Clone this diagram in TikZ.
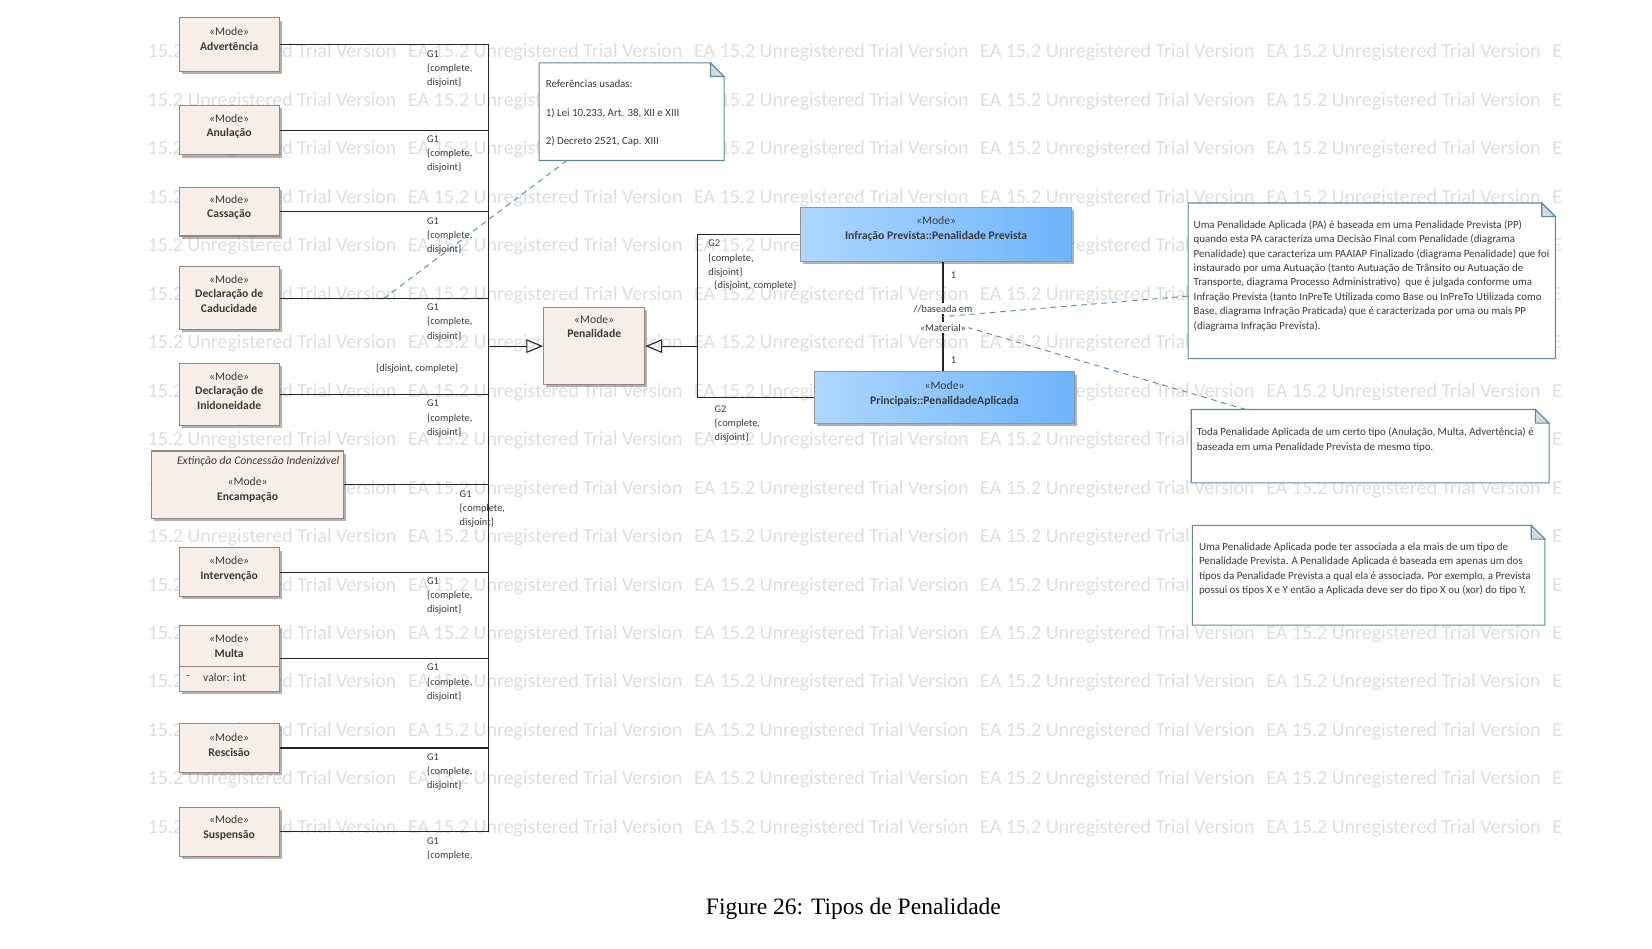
\documentclass[tikz,border=0pt]{standalone}
\usepackage{fontspec}
\setmainfont{Carlito}
\newfontfamily\capfont{Liberation Serif}
\usepackage{tikz}
\usetikzlibrary{calc,shadows,arrows.meta}

\definecolor{modefill}{RGB}{246,238,233}
\definecolor{modeline}{RGB}{150,132,132}
\definecolor{bluel}{RGB}{174,215,255}
\definecolor{bluer}{RGB}{110,180,250}
\definecolor{blueline}{RGB}{140,150,160}
\definecolor{noteline}{RGB}{98,136,160}
\definecolor{foldgray}{RGB}{214,218,222}
\definecolor{txt}{RGB}{58,58,58}
\definecolor{wmark}{RGB}{222,222,222}

\tikzset{
  wm/.style={anchor=base west, inner sep=0pt, text=wmark, font=\fontsize{10.8}{12}\selectfont},
  modebox/.style={draw=modeline, fill=modefill, line width=0.6pt,
    drop shadow={shadow xshift=0.05cm, shadow yshift=-0.05cm, fill=black!60, opacity=.5}},
  leftbox/.style={modebox, minimum width=1.9cm},
  bluebox/.style={draw=blueline, left color=bluel, right color=bluer, line width=0.6pt,
    drop shadow={shadow xshift=0.05cm, shadow yshift=-0.05cm, fill=black!60, opacity=.5}},
  modetxt/.style={anchor=north, align=center, inner sep=0pt, text=txt, font=\fontsize{6.3}{7.8}\selectfont},
  gen/.style={draw=black!85, line width=0.6pt},
  genarrow/.style={gen, -{Triangle[open, length=0.32cm, width=0.26cm]}},
  glabel/.style={anchor=north west, align=left, inner sep=0pt, yshift=-0.1cm, text=txt, font=\fontsize{5.6}{7.7}\selectfont},
  gtxt/.style={inner sep=1pt, text=txt, font=\fontsize{5.6}{7.7}\selectfont},
  notebox/.style={fill=white, inner sep=0pt},
  notetxt/.style={anchor=north west, align=left, inner sep=0pt, text=txt, font=\fontsize{5.9}{7.8}\selectfont},
  notelink/.style={draw=noteline, dash pattern=on 3pt off 2.5pt, line width=0.5pt}
}

\begin{document}
\begin{tikzpicture}[x=0.02cm, y=-0.02cm]
  \useasboundingbox (0,0) rectangle (1568,900);

  % watermark
  \begin{scope}
    \clip (141,0) rectangle (1481,800);
    \foreach \r in {0,...,16}
      \foreach \c in {0,...,5}
        \node[wm] (wm-\r-\c) at (115.5+271.5*\c, 55+46*\r) {EA 15.2 Unregistered Trial Version};
  \end{scope}

  \coordinate (trunk) at (464,0);
  \coordinate (trunkb) at (662,0);
  \coordinate (asc) at (895,0);
  \coordinate (gx) at (405,0);
  \coordinate (gxe) at (436,0);
  \coordinate (gxa) at (672,0);
  \coordinate (gxb) at (678,0);

  % subtypes
  \node[leftbox, minimum height=1.02cm] (adv) at (217.5,42.5) {};
  \node[modetxt] (advt) at ([yshift=-0.19cm]adv.north) {«Mode»\\\textbf{Advertência}};
  \node[leftbox, minimum height=0.94cm] (anu) at (217.5,123.5) {};
  \node[modetxt] (anut) at ([yshift=-0.17cm]anu.north) {«Mode»\\\textbf{Anulação}};
  \node[leftbox, minimum height=0.92cm] (cas) at (217.5,201) {};
  \node[modetxt] (cast) at ([yshift=-0.15cm]cas.north) {«Mode»\\\textbf{Cassação}};
  \node[leftbox, minimum height=1.2cm] (cad) at (217.5,283) {};
  \node[modetxt] (cadt) at ([yshift=-0.17cm]cad.north) {«Mode»\\\textbf{Declaração de}\\\textbf{Caducidade}};
  \node[leftbox, minimum height=1.18cm] (ini) at (217.5,374.5) {};
  \node[modetxt] (init) at ([yshift=-0.17cm]ini.north) {«Mode»\\\textbf{Declaração de}\\\textbf{Inidoneidade}};
  \node[modebox, minimum width=3.64cm, minimum height=1.28cm] (enc) at (235,460) {};
  \node[modetxt, anchor=north east, font=\fontsize{6.3}{7.8}\selectfont\itshape] (encx) at ([xshift=-0.08cm, yshift=-0.11cm]enc.north east) {Extinção da Concessão Indenizável};
  \node[modetxt] (enct) at ([yshift=-0.51cm]enc.north) {«Mode»\\\textbf{Encampação}};
  \node[leftbox, minimum height=0.92cm] (int) at (217.5,543) {};
  \node[modetxt] (intt) at ([yshift=-0.17cm]int.north) {«Mode»\\\textbf{Intervenção}};
  \node[leftbox, minimum height=1.24cm] (mul) at (217.5,625) {};
  \node[modetxt] (mult) at ([yshift=-0.17cm]mul.north) {«Mode»\\\textbf{Multa}};
  \draw[modeline, line width=0.6pt] ([yshift=-0.78cm]mul.north west) -- ([yshift=-0.78cm]mul.north east);
  \node[modetxt, anchor=west] (mula) at ([xshift=0.14cm, yshift=-0.99cm]mul.north west) {-};
  \node[modetxt, anchor=west] (mulb) at ([xshift=0.46cm, yshift=-0.99cm]mul.north west) {valor: int};
  \node[leftbox, minimum height=0.92cm] (res) at (217.5,710) {};
  \node[modetxt] (rest) at ([yshift=-0.19cm]res.north) {«Mode»\\\textbf{Rescisão}};
  \node[leftbox, minimum height=0.94cm] (sus) at (217.5,789.5) {};
  \node[modetxt] (sust) at ([yshift=-0.17cm]sus.north) {«Mode»\\\textbf{Suspensão}};

  % Penalidade and its supertypes
  \node[modebox, minimum width=1.92cm, minimum height=1.46cm] (pen) at (564,328.5) {};
  \node[modetxt] (pent) at ([yshift=-0.15cm]pen.north) {«Mode»\\\textbf{Penalidade}};
  \node[bluebox, minimum width=5.14cm, minimum height=1.02cm] (prev) at (888.5,222.5) {};
  \node[modetxt] (prevt) at ([yshift=-0.18cm]prev.north) {«Mode»\\\textbf{Infração Prevista::Penalidade Prevista}};
  \node[bluebox, minimum width=4.94cm, minimum height=0.98cm] (apl) at (896.5,377.5) {};
  \node[modetxt] (aplt) at ([yshift=-0.19cm]apl.north) {«Mode»\\\textbf{Principais::PenalidadeAplicada}};

  % generalization set G1
  \draw[gen] (adv.east) -- (adv.east -| trunk);
  \node[glabel] (gadv) at (adv.east -| gx) {G1\\\{complete,\\disjoint\}};
  \draw[gen] (anu.east) -- (anu.east -| trunk);
  \node[glabel] (ganu) at (anu.east -| gx) {G1\\\{complete,\\disjoint\}};
  \draw[gen] (cas.east) -- (cas.east -| trunk);
  \node[glabel] (gcas) at (cas.east -| gx) {G1\\\{complete,\\disjoint\}};
  \draw[gen] (cad.east) -- (cad.east -| trunk);
  \node[glabel] (gcad) at (cad.east -| gx) {G1\\\{complete,\\disjoint\}};
  \draw[gen] (ini.east) -- (ini.east -| trunk);
  \node[glabel] (gini) at (ini.east -| gx) {G1\\\{complete,\\disjoint\}};
  \draw[gen] (enc.east) -- (enc.east -| trunk);
  \node[glabel] (genc) at (enc.east -| gxe) {G1\\\{complete,\\disjoint\}};
  \draw[gen] (int.east) -- (int.east -| trunk);
  \node[glabel] (gint) at (int.east -| gx) {G1\\\{complete,\\disjoint\}};
  \draw[gen] (mul.east) -- (mul.east -| trunk);
  \node[glabel] (gmul) at (mul.east -| gx) {G1\\\{complete,\\disjoint\}};
  \draw[gen] (res.east) -- (res.east -| trunk);
  \node[glabel] (gres) at (res.east -| gx) {G1\\\{complete,\\disjoint\}};
  \draw[gen] (sus.east) -- (sus.east -| trunk);
  \node[glabel] (gsus) at (sus.east -| gx) {G1\\\{complete,};
  \draw[gen] (adv.east -| trunk) -- (sus.east -| trunk);
  \draw[genarrow] (pen.west -| trunk) -- (pen.west);
  \node[gtxt] (gset) at (396,350) {\{disjoint, complete\}};

  % generalization set G2
  \draw[gen] (prev.west) -- (prev.west -| trunkb) -- (apl.west -| trunkb) -- (apl.west);
  \draw[genarrow] (pen.east -| trunkb) -- (pen.east);
  \node[glabel] (gprev) at (prev.west -| gxa) {G2\\\{complete,\\disjoint\}};
  \node[glabel, yshift=-0.04cm] (gapl) at (apl.west -| gxb) {G2\\\{complete,\\disjoint\}};
  \node[gtxt] (gsetb) at (717,271) {\{disjoint, complete\}};

  % association
  \draw[gen] (asc |- prev.south) -- (asc |- apl.north);
  \coordinate (ascmid) at ($(asc |- prev.south)!0.5!(asc |- apl.north)$);
  \node[gtxt] (mup) at (905,261) {1};
  \node[gtxt] (mdown) at (905,342) {1};
  \node[gtxt, fill=white] (bas) at (895,293) {//baseada em};
  \node[gtxt, fill=white] (mat) at (895,311) {«Material»};

  % notes
  \node[notebox, minimum width=3.5cm, minimum height=1.84cm] (n1) at (599.5,106) {};
  \node[notebox, minimum width=6.96cm, minimum height=2.94cm] (n2) at (1302,266.5) {};
  \node[notebox, minimum width=6.78cm, minimum height=1.38cm] (n3) at (1300.5,423.5) {};
  \node[notebox, minimum width=6.68cm, minimum height=1.88cm] (n4) at (1299,546) {};
  \foreach \n in {n1,n2,n3,n4} {
    \draw[noteline, line width=0.6pt] (\n.north west) -- ([xshift=-0.26cm]\n.north east)
      -- ([yshift=-0.26cm]\n.north east) -- (\n.south east) -- (\n.south west) -- cycle;
    \filldraw[fill=foldgray, draw=noteline, line width=0.6pt] ([xshift=-0.26cm]\n.north east)
      -- ([xshift=-0.26cm, yshift=-0.26cm]\n.north east) -- ([yshift=-0.26cm]\n.north east) -- cycle;
  }
  \node[notetxt] (n1t) at ([xshift=0.12cm, yshift=-0.32cm]n1.north west)
    {Referências usadas:\\[7.6pt]1) Lei 10.233, Art. 38, XII e XIII\\[7.6pt]2) Decreto 2521, Cap. XIII};
  \node[notetxt] (n2t) at ([xshift=0.1cm, yshift=-0.32cm]n2.north west)
    {Uma Penalidade Aplicada (PA) é baseada em uma Penalidade Prevista (PP)\\
     quando esta PA caracteriza uma Decisão Final com Penalidade (diagrama\\
     Penalidade) que caracteriza um PAAIAP Finalizado (diagrama Penalidade) que foi\\
     instaurado por uma Autuação (tanto Autuação de Trânsito ou Autuação de\\
     Transporte, diagrama Processo Administrativo)\ \ que é julgada conforme uma\\
     Infração Prevista (tanto InPreTe Utilizada como Base ou InPreTo Utilizada como\\
     Base, diagrama Infração Praticada) que é caracterizada por uma ou mais PP\\
     (diagrama Infração Prevista).};
  \node[notetxt] (n3t) at ([xshift=0.1cm, yshift=-0.34cm]n3.north west)
    {Toda Penalidade Aplicada de um certo tipo (Anulação, Multa, Advertência) é\\
     baseada em uma Penalidade Prevista de mesmo tipo.};
  \node[notetxt] (n4t) at ([xshift=0.12cm, yshift=-0.32cm]n4.north west)
    {Uma Penalidade Aplicada pode ter associada a ela mais de um tipo de\\
     Penalidade Prevista. A Penalidade Aplicada é baseada em apenas um dos\\
     tipos da Penalidade Prevista a qual ela é associada. Por exemplo, a Prevista\\
     possui os tipos X e Y então a Aplicada deve ser do tipo X ou (xor) do tipo Y.};

  % note links
  \coordinate (cadlink) at ($(cad.east)!0.5!(cad.east -| trunk)$);
  \draw[notelink] (n1) -- (cadlink);
  \draw[notelink] (n2) -- (ascmid);
  \draw[notelink] (n3) -- (mat.east);

  \node[font=\capfont\fontsize{12.7}{15}\selectfont] (cap) at (810,863) {Figure 26: Tipos de Penalidade};
\end{tikzpicture}
\end{document}
